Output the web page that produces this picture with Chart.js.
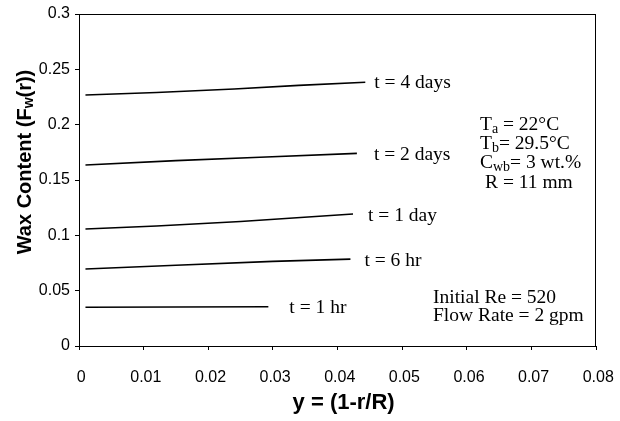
<!DOCTYPE html>
<html>
<head>
<meta charset="UTF-8">
<title>Wax Content</title>
<script src="https://cdn.jsdelivr.net/npm/chart.js"></script>
<style>
  html, body { margin: 0; padding: 0; background: #fff; }
  #wrap { width: 620px; height: 421px; }
</style>
</head>
<body>
<div id="wrap"><canvas id="waxChart"></canvas></div>
<script>
  // curve labels
  const seriesNames = ['t = 4 days', 't = 2 days', 't = 1 day', 't = 6 hr', 't = 1 hr'];

  // radial position y = 1 - r/R  and wax content
  const x4days = [0.001, 0.012, 0.024, 0.034, 0.0443];
  const y4days = [0.2268, 0.2290, 0.2322, 0.2355, 0.2383];
  const x2days = [0.001, 0.015, 0.028, 0.043];
  const y2days = [0.1635, 0.1675, 0.1705, 0.1741];
  const x1day = [0.001, 0.012, 0.025, 0.0424];
  const y1day = [0.1057, 0.1085, 0.1125, 0.1193];
  const x6hr = [0.001, 0.015, 0.030, 0.0420];
  const y6hr = [0.0696, 0.0730, 0.0765, 0.0785];
  const x1hr = [0.001, 0.015, 0.0293];
  const y1hr = [0.0350, 0.0352, 0.0355];

  const yTicks = [0, 0.05, 0.1, 0.15, 0.2, 0.25, 0.3];
  const xTicks = [0, 0.01, 0.02, 0.03, 0.04, 0.05, 0.06, 0.07, 0.08];

  const seriesX = [x4days, x2days, x1day, x6hr, x1hr];
  const seriesY = [y4days, y2days, y1day, y6hr, y1hr];

  const sans = '"Liberation Sans", Arial, sans-serif';
  const serif = '"Liberation Serif", "Times New Roman", serif';

  // draw text with subscripts: parts = [[text, isSub], ...]
  function richText(ctx, parts, x, y, size, family, weight) {
    let cx = x;
    parts.forEach(p => {
      const sub = p[1];
      ctx.font = (weight || '') + ' ' + (sub ? Math.round(size * 0.72) : size) + 'px ' + family;
      ctx.fillText(p[0], cx, sub ? y + size * 0.22 : y);
      cx += ctx.measureText(p[0]).width;
    });
    return cx - x;
  }

  const annotate = {
    id: 'annotate',
    afterDraw(chart) {
      const ctx = chart.ctx;
      const a = chart.chartArea;
      ctx.save();
      // frame around plot area
      ctx.strokeStyle = '#000';
      ctx.lineWidth = 1;
      ctx.strokeRect(a.left + 0.5, a.top + 0.5, a.right - a.left - 1, a.bottom - a.top);

      ctx.fillStyle = '#000';
      ctx.textBaseline = 'middle';
      ctx.textAlign = 'left';

      // curve labels near line ends
      const offs = [[9, 1], [17, 2], [15, 2], [14, 2], [21, 1]];
      chart.data.datasets.forEach((ds, i) => {
        const meta = chart.getDatasetMeta(i);
        const last = meta.data[meta.data.length - 1];
        ctx.font = '19.5px ' + serif;
        ctx.fillText(seriesNames[i], last.x + offs[i][0], last.y + offs[i][1]);
      });

      // condition block
      const fs = 19.5;
      richText(ctx, [['T', false], ['a', true], [' = 22°C', false]], 480, 125, fs, serif);
      richText(ctx, [['T', false], ['b', true], ['= 29.5°C', false]], 480, 144, fs, serif);
      richText(ctx, [['C', false], ['wb', true], ['= 3 wt.%', false]], 480, 163, fs, serif);
      richText(ctx, [['R = 11 mm', false]], 485, 183, fs, serif);
      richText(ctx, [['Initial Re = 520', false]], 433, 298, fs, serif);
      richText(ctx, [['Flow Rate = 2 gpm', false]], 433, 316, fs, serif);

      // y axis title with subscript
      ctx.translate(25, 162);
      ctx.rotate(-Math.PI / 2);
      const parts = [['Wax Content (F', false], ['w', true], ['(r))', false]];
      ctx.globalAlpha = 0;
      const w = richText(ctx, parts, 0, 0, 20, sans, 'bold');
      ctx.globalAlpha = 1;
      richText(ctx, parts, -w / 2, 0, 20, sans, 'bold');
      ctx.restore();
    }
  };

  const datasets = seriesNames.map((name, i) => ({
    label: name,
    data: seriesX[i].map((x, j) => ({ x: x, y: seriesY[i][j] })),
    borderColor: '#000',
    borderWidth: 1.6,
    pointRadius: 0,
    fill: false,
    tension: 0
  }));

  new Chart(document.getElementById('waxChart'), {
    type: 'line',
    data: { datasets: datasets },
    options: {
      responsive: true,
      maintainAspectRatio: false,
      animation: false,
      layout: { padding: { top: 14, right: 24, left: 0, bottom: 0 } },
      plugins: { legend: { display: false }, tooltip: { enabled: false } },
      scales: {
        x: {
          type: 'linear',
          min: 0, max: 0.08,
          afterBuildTicks: s => { s.ticks = xTicks.map(v => ({ value: v })); },
          afterFit: s => { s.height = 75; s.paddingLeft = 0; s.paddingRight = 0; },
          grid: { drawOnChartArea: false, tickLength: 4, color: '#000' },
          border: { color: '#000' },
          ticks: {
            color: '#000', padding: 18, maxRotation: 0,
            font: { family: sans, size: 16 },
            callback: v => ' ' + String(+v.toFixed(2))
          },
          title: {
            display: true, text: '  y = (1-r/R)', color: '#000',
            font: { family: sans, size: 22, weight: 'bold' },
            padding: { top: 0, bottom: 5 }
          }
        },
        y: {
          min: 0, max: 0.3,
          afterBuildTicks: s => { s.ticks = yTicks.map(v => ({ value: v })); },
          afterFit: s => { s.width = 79; s.paddingTop = 0; s.paddingBottom = 0; },
          grid: { drawOnChartArea: false, tickLength: 4, color: '#000' },
          border: { color: '#000' },
          ticks: {
            color: '#000', padding: 5,
            font: { family: sans, size: 16 },
            callback: v => String(+v.toFixed(2))
          }
        }
      }
    },
    plugins: [annotate]
  });
</script>
</body>
</html>
